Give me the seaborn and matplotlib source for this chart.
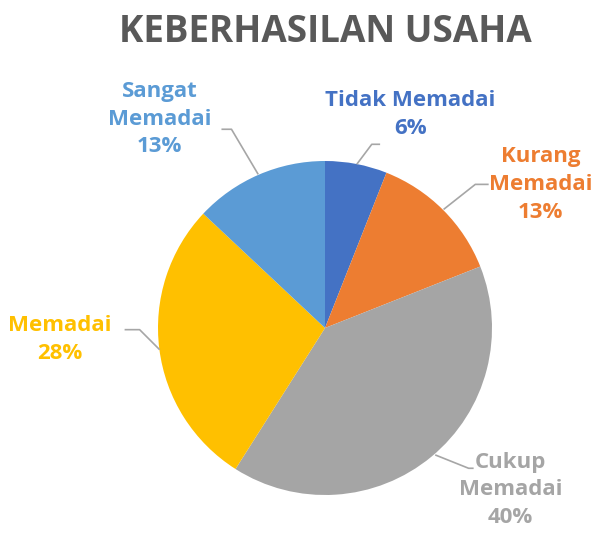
import matplotlib
matplotlib.use("Agg")
import matplotlib.pyplot as plt
import seaborn as sns

# --- data ---
categories = ["Tidak Memadai", "Kurang Memadai", "Cukup Memadai", "Memadai", "Sangat Memadai"]
values = [6, 13, 40, 28, 13]
label_text = ["Tidak Memadai\n6%", "Kurang\nMemadai\n13%", "Cukup\nMemadai\n40%",
              "Memadai\n28%", "Sangat\nMemadai\n13%"]
colors = ["#4472C4", "#ED7D31", "#A5A5A5", "#FFC000", "#5B9BD5"]

# label layout (data units, pie radius = 1): text centre, leader start, elbow, end
label_pos = [(0.51, 1.28), (1.29, 0.86), (1.11, -0.97), (-1.59, -0.07), (-0.99, 1.25)]
leaders = [
    [(0.19, 0.98), (0.28, 1.10), (0.33, 1.10)],
    [(0.71, 0.71), (0.90, 0.86), (0.98, 0.86)],
    [(0.66, -0.76), (0.86, -0.84), (0.89, -0.84)],
    [(-0.99, -0.13), (-1.11, -0.01), (-1.20, -0.01)],
    [(-0.40, 0.92), (-0.56, 1.19), (-0.62, 1.19)],
]

sns.set_theme(style="white")
plt.rcParams['font.family'] = ['Open Sans', 'DejaVu Sans']

W, H, R = 597, 535, 167.0
cx, cy = 325, 328
fig = plt.figure(figsize=(W / 100, H / 100), dpi=100)
ax = fig.add_axes([0, 0, 1, 1])

wedges, _ = ax.pie(values, colors=colors, startangle=90, counterclock=False,
                   radius=1, wedgeprops=dict(linewidth=0))

for txt, pos, pts, col in zip(label_text, label_pos, leaders, colors):
    xs = [p[0] for p in pts]
    ys = [p[1] for p in pts]
    ax.plot(xs, ys, color="#A6A6A6", lw=1.2, solid_capstyle="butt")
    ax.text(pos[0], pos[1], txt, ha="center", va="center", color=col,
            fontsize=16, fontweight="bold", linespacing=1.42)

ax.set_xlim(-cx / R, (W - cx) / R)
ax.set_ylim(-(H - cy) / R, cy / R)
ax.set_aspect("equal", adjustable="box")
ax.axis("off")

fig.text(0.545, 0.94, "KEBERHASILAN USAHA", ha="center", va="center",
         fontsize=26.5, fontweight="bold", color="#595959")

fig.savefig("out.png", dpi=100)
